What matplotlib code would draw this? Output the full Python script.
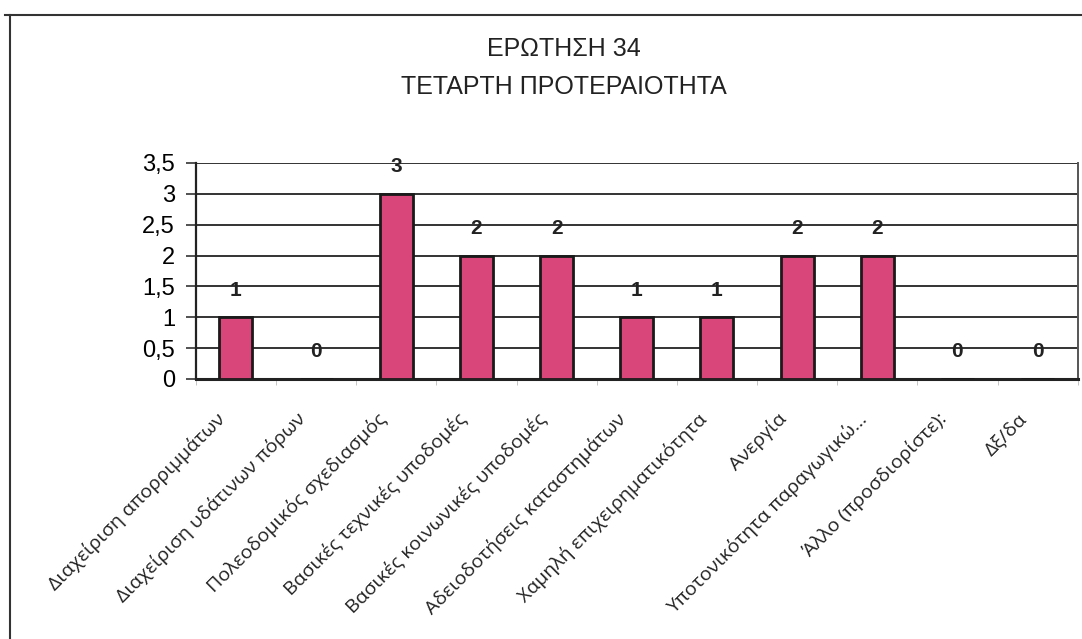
import numpy as np
import matplotlib.pyplot as plt
import matplotlib.transforms as mtransforms
from matplotlib.lines import Line2D

# Δεδομένα
categories = [
    "Διαχείριση απορριμμάτων",
    "Διαχείριση υδάτινων πόρων",
    "Πολεοδομικός σχεδιασμός",
    "Βασικές τεχνικές υποδομές",
    "Βασικές κοινωνικές υποδομές",
    "Αδειοδοτήσεις καταστημάτων",
    "Χαμηλή επιχειρηματικότητα",
    "Ανεργία",
    "Υποτονικότητα παραγωγικώ...",
    "Άλλο (προσδιορίστε):",
    "Δξ/δα",
]
values = [1, 0, 3, 2, 2, 1, 1, 2, 2, 0, 0]
y_ticks = [0, 0.5, 1, 1.5, 2, 2.5, 3, 3.5]
y_tick_labels = ["0", "0,5", "1", "1,5", "2", "2,5", "3", "3,5"]
title_lines = ["ΕΡΩΤΗΣΗ 34", "ΤΕΤΑΡΤΗ ΠΡΟΤΕΡΑΙΟΤΗΤΑ"]

plt.rcParams['font.family'] = ['Liberation Sans', 'DejaVu Sans']

fig = plt.figure(figsize=(10.82, 6.39), dpi=100)
ax = fig.add_axes([0.181, 0.407, 0.815, 0.338])

x = np.arange(len(categories))
ax.bar(x, values, width=0.41, color='#d9467a', edgecolor='#1a1a1a', linewidth=2, zorder=3)

for xi, v in zip(x, values):
    ax.text(xi, v + 0.44, str(v), ha='center', va='center', fontsize=15,
            fontweight='bold', color='#222222', zorder=4)

ax.set_xlim(-0.5, len(categories) - 0.5)
ax.set_ylim(0, 3.5)
ax.set_yticks(y_ticks)
ax.set_yticklabels(y_tick_labels, fontsize=17)
ax.yaxis.grid(True, color='#333333', linewidth=1.4, zorder=0)
ax.set_axisbelow(True)

ax.set_xticks(x)
ax.set_xticklabels(categories, rotation=45, ha='right', rotation_mode='anchor',
                   fontsize=14, family=['Open Sans', 'DejaVu Sans'], color='#222222')
ax.tick_params(axis='x', length=0, pad=22)
shift = mtransforms.ScaledTranslation(-20 / 100, 0, fig.dpi_scale_trans)
for lbl in ax.get_xticklabels():
    lbl.set_transform(lbl.get_transform() + shift)
ax.set_xticks(np.arange(len(categories) + 1) - 0.5, minor=True)
ax.tick_params(axis='x', which='minor', length=4, color='#bbbbbb')
ax.tick_params(axis='y', length=7, width=1.2, color='#333333', pad=8)

ax.spines['top'].set_visible(False)
ax.spines['left'].set_color('#222222')
ax.spines['left'].set_linewidth(1.6)
ax.spines['bottom'].set_color('#222222')
ax.spines['bottom'].set_linewidth(2.2)
ax.spines['right'].set_color('#555555')
ax.spines['right'].set_linewidth(1.4)

fig.text(0.521, 0.924, title_lines[0], ha='center', va='center', fontsize=18, color='#222222')
fig.text(0.521, 0.864, title_lines[1], ha='center', va='center', fontsize=18, color='#222222')

# περίγραμμα
fig.add_artist(Line2D([0.009, 0.009], [0.0, 0.977], color='#333333', linewidth=1.5))
fig.add_artist(Line2D([0.005, 1.0], [0.977, 0.977], color='#333333', linewidth=1.5))

plt.savefig("out.png", dpi=100)
